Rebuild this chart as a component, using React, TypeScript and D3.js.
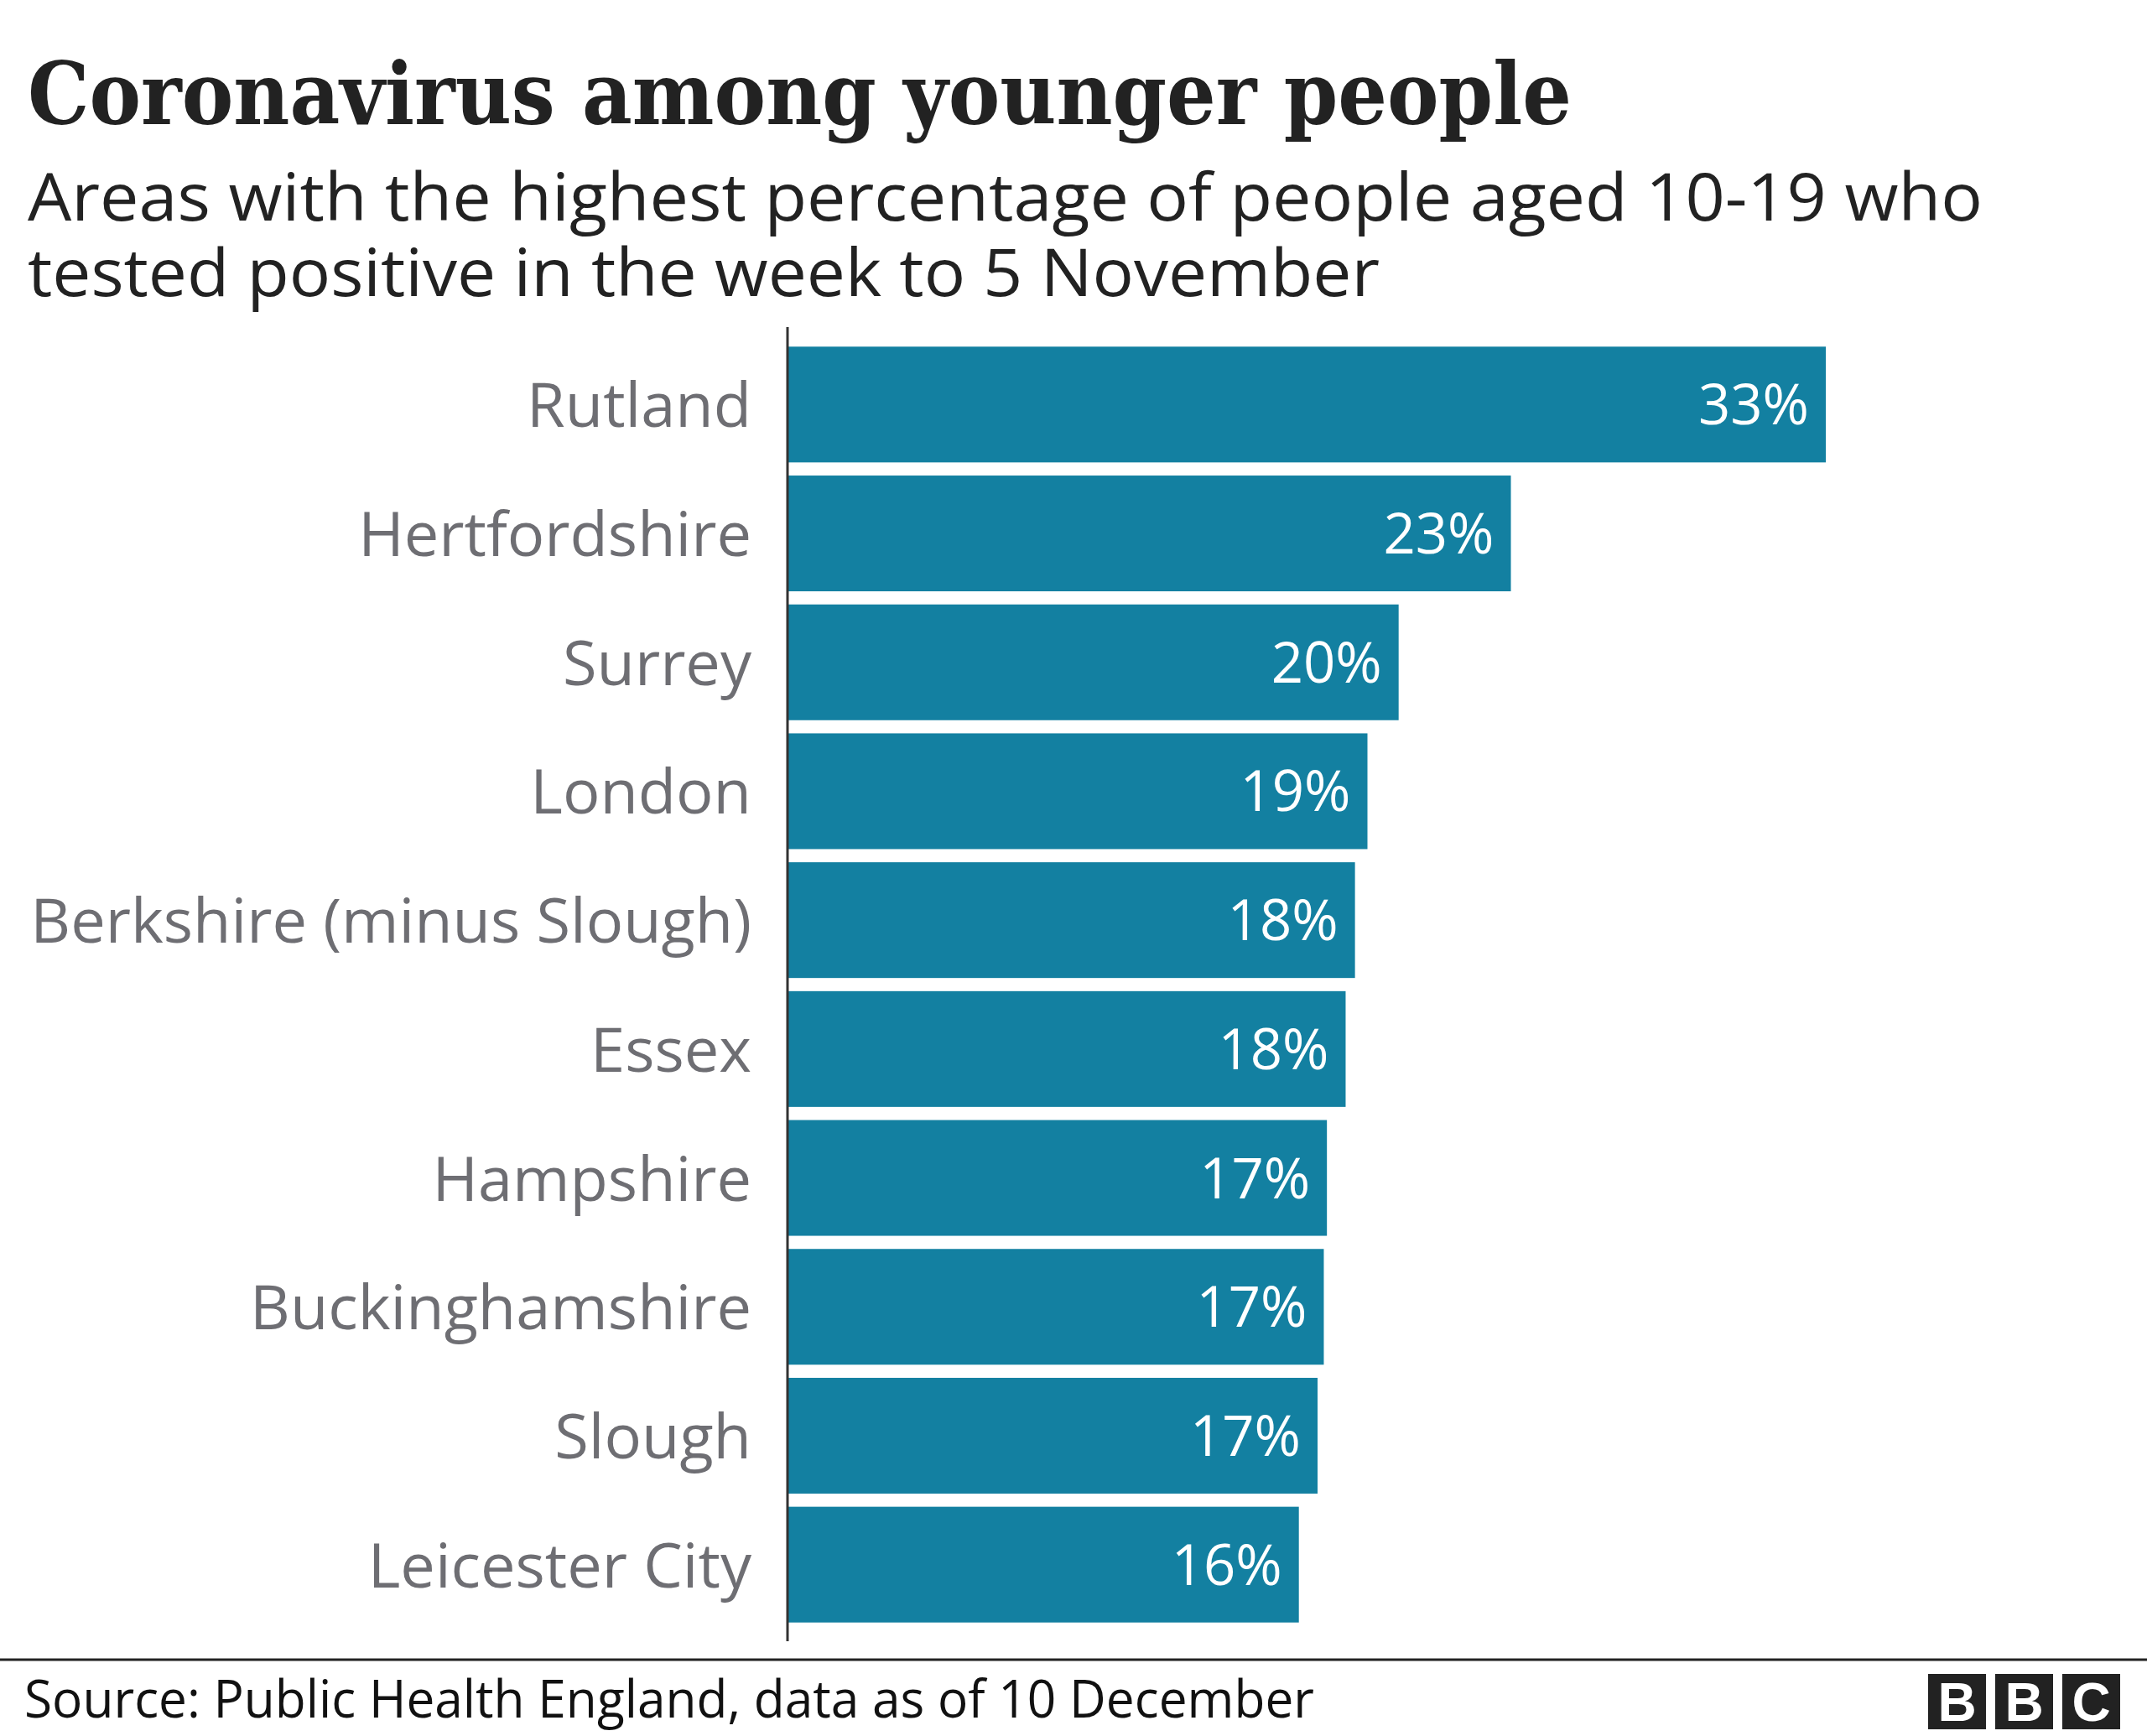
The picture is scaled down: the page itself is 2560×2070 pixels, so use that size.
import React from "react";
import * as d3 from "d3";

const categories = [
  "Rutland",
  "Hertfordshire",
  "Surrey",
  "London",
  "Berkshire (minus Slough)",
  "Essex",
  "Hampshire",
  "Buckinghamshire",
  "Slough",
  "Leicester City",
];
const values = [33.3, 23.2, 19.6, 18.6, 18.2, 17.9, 17.3, 17.2, 17.0, 16.4];

const titleText = "Coronavirus among younger people";
const subtitleLines = [
  "Areas with the highest percentage of people aged 10-19 who",
  "tested positive in the week to 5 November",
];
const sourceText = "Source: Public Health England, data as of 10 December";

const W = 2560;
const H = 2070;
const BAR = "#1380A1";
const SANS = "'Open Sans', 'Noto Sans', sans-serif";

export default function App() {
  const x = d3.scaleLinear().domain([0, 33.3]).range([939, 2177]);
  const y = d3
    .scaleBand<string>()
    .domain(categories)
    .range([405.5, 1942.5])
    .paddingInner(0.102)
    .paddingOuter(0.051);
  const bw = y.bandwidth();

  return (
    <svg
      width={W}
      height={H}
      viewBox={`0 0 ${W} ${H}`}
      style={{ position: "absolute", left: 0, top: 0, background: "#fff" }}
    >
      <rect x={0} y={0} width={W} height={H} fill="#fff" />
      <text
        x={33}
        y={148}
        fontFamily="'DejaVu Serif', serif"
        fontWeight={700}
        fontSize={102}
        fill="#222"
        textLength={1841}
        lengthAdjust="spacingAndGlyphs"
      >
        {titleText}
      </text>
      {subtitleLines.map((s, i) => (
        <text
          key={i}
          x={33}
          y={263 + i * 90}
          fontFamily={SANS}
          fontSize={79}
          fill="#222"
          textLength={i === 0 ? 2331 : 1612}
          lengthAdjust="spacingAndGlyphs"
        >
          {s}
        </text>
      ))}

      {categories.map((c, i) => {
        const y0 = y(c)!;
        const cy = y0 + bw / 2;
        return (
          <g key={c}>
            <rect x={x(0)} y={y0} width={x(values[i]) - x(0)} height={bw} fill={BAR} />
            <text
              x={x(values[i]) - 20}
              y={cy + 24}
              textAnchor="end"
              fontFamily={SANS}
              fontSize={67}
              fill="#fff"
            >
              {Math.round(values[i]) + "%"}
            </text>
            <text
              x={896}
              y={cy + 27}
              textAnchor="end"
              fontFamily={SANS}
              fontSize={74}
              fill="#6e6e73"
            >
              {c}
            </text>
          </g>
        );
      })}

      <line x1={939} x2={939} y1={390} y2={1957} stroke="#333" strokeWidth={3} />

      <rect x={0} y={1977.5} width={W} height={3} fill="#222" />
      <text
        x={29}
        y={2048}
        fontFamily={SANS}
        fontSize={63}
        fill="#111"
        textLength={1538}
        lengthAdjust="spacingAndGlyphs"
      >
        {sourceText}
      </text>

      {["B", "B", "C"].map((l, i) => (
        <g key={i}>
          <rect x={2299 + i * 80} y={1996} width={69} height={66} fill="#222" />
          <text
            x={2299 + i * 80 + 34.5}
            y={1996 + 33 + 23}
            textAnchor="middle"
            fontFamily="'Liberation Sans Narrow', 'Liberation Sans', sans-serif"
            fontWeight={700}
            fontSize={64}
            fill="#fff"
          >
            {l}
          </text>
        </g>
      ))}
    </svg>
  );
}
